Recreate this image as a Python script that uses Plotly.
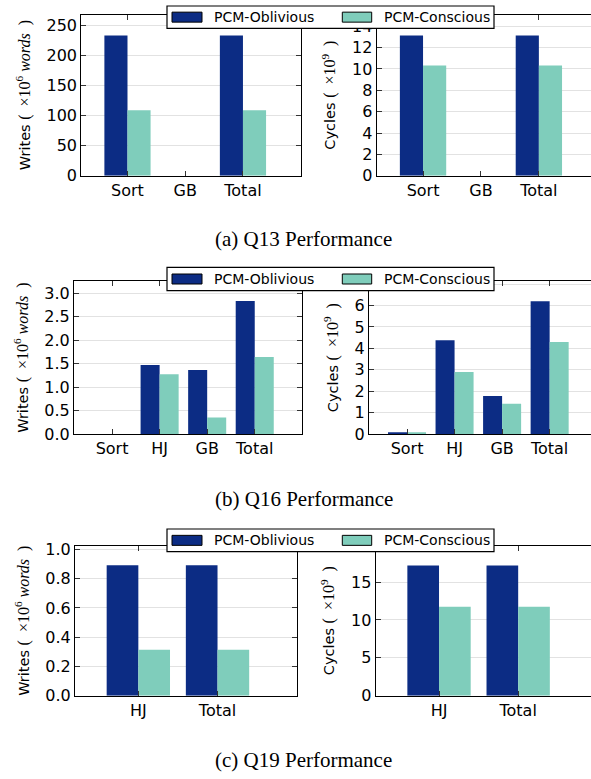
import plotly.graph_objects as go

# ---------------- data ----------------
series_names = ["PCM-Oblivious", "PCM-Conscious"]

cats_q13 = ["Sort", "GB", "Total"]
q13_writes_obl = [233, 0, 233]
q13_writes_con = [109, 0, 109]
q13_cycles_obl = [13.13, 0, 13.13]
q13_cycles_con = [10.33, 0, 10.33]

cats_q16 = ["Sort", "HJ", "GB", "Total"]
q16_writes_obl = [0, 1.47, 1.36, 2.83]
q16_writes_con = [0, 1.27, 0.35, 1.64]
q16_cycles_obl = [0.08, 4.38, 1.78, 6.2]
q16_cycles_con = [0.08, 2.9, 1.41, 4.29]

cats_q19 = ["HJ", "Total"]
q19_writes_obl = [0.892, 0.892]
q19_writes_con = [0.314, 0.314]
q19_cycles_obl = [17.2, 17.2]
q19_cycles_con = [11.73, 11.73]

captions = ["(a) Q13 Performance", "(b) Q16 Performance", "(c) Q19 Performance"]

# ---------------- style ----------------
W, H = 591, 779
C_OBL = "#0c2c84"
C_CON = "#7fcdbb"
SANS = "DejaVu Sans"
SERIF = "Liberation Serif"

def px_x(v):
    return v / W

def px_y(v):
    return 1 - v / H

def dx(a, b):
    return [px_x(a), min(px_x(b), 1.0)]

def dy(top, bottom):
    return [px_y(bottom), px_y(top)]

writes_title = ("Writes <span style=\"font-family:Liberation Serif;font-size:16px\">(  ×10<sup>6</sup> "
                "<i>words</i>  )</span>")
cycles_title = ("Cycles <span style=\"font-family:Liberation Serif;font-size:16px\">(  ×10<sup>9</sup>  )</span>")

rows = [
    dict(cats=cats_q13, w=(q13_writes_obl, q13_writes_con), c=(q13_cycles_obl, q13_cycles_con),
         top=14.5, bottom=175.7, lx=(81.3, 300.7), rx=(376.7, 591), lrange=[-0.8, 3.0], rrange=[-0.8, 2.90],
         ly=[0, 268], ry=[0, 15.1], ldt=50, rdt=2, lfmt="d", rfmt="d"),
    dict(cats=cats_q16, w=(q16_writes_obl, q16_writes_con), c=(q16_cycles_obl, q16_cycles_con),
         top=281.3, bottom=434, lx=(74, 302.3), rx=(369, 591), lrange=[-0.8, 4.0], rrange=[-0.8, 3.87],
         ly=[0, 3.25], ry=[0, 7.13], ldt=0.5, rdt=1, lfmt=".1f", rfmt="d"),
    dict(cats=cats_q19, w=(q19_writes_obl, q19_writes_con), c=(q19_cycles_obl, q19_cycles_con),
         top=545.7, bottom=695.7, lx=(75, 296.7), rx=(375.7, 591), lrange=[-0.8, 2.0], rrange=[-0.8, 1.92],
         ly=[0, 1.026], ry=[0, 19.8], ldt=0.2, rdt=5, lfmt=".1f", rfmt="d"),
]
# legend boxes (top, bottom) in pixels
legend_boxes = [(6, 28.3), (267.3, 290.7), (529, 551.7)]
legend_x = (167, 494)
swatch_x = [(172, 202), (342.3, 371.7)]
legtext_x = [211.5, 381.5]
caption_y = [239, 499, 760]

fig = go.Figure()
layout = {}

ax_i = 0
for r_i, row in enumerate(rows):
    for side in ("left", "right"):
        ax_i += 1
        sfx = "" if ax_i == 1 else str(ax_i)
        xa, ya = "x" + sfx, "y" + sfx
        vals = row["w"] if side == "left" else row["c"]
        for s_i, (name, col) in enumerate(zip(series_names, (C_OBL, C_CON))):
            fig.add_trace(go.Bar(
                x=row["cats"], y=vals[s_i], name=name, marker_color=col,
                marker_line_width=0, xaxis=xa, yaxis=ya,
                legendgroup=name, showlegend=False,
            ))
        xr = row["lx"] if side == "left" else row["rx"]
        layout["xaxis" + sfx] = dict(
            domain=dx(*xr), anchor=ya, type="category", automargin=False,
            range=row["lrange"] if side == "left" else row["rrange"],
            showline=True, linecolor="black", linewidth=1.2, mirror="ticks",
            ticks="inside", ticklen=5, tickcolor="#333", tickwidth=1,
            showgrid=False, zeroline=False,
            tickfont=dict(family=SANS, size=16, color="black"),
        )
        layout["yaxis" + sfx] = dict(
            domain=dy(row["top"], row["bottom"]), anchor=xa, automargin=False,
            range=row["ly"] if side == "left" else row["ry"],
            dtick=row["ldt"] if side == "left" else row["rdt"], tick0=0,
            tickformat=row["lfmt"] if side == "left" else row["rfmt"],
            showline=True, linecolor="black", linewidth=1.2,
            mirror="ticks" if side == "left" else False,
            ticks="inside", ticklen=5, tickcolor="#333", tickwidth=1,
            showgrid=True, gridcolor="#e2e2e2", gridwidth=1, zeroline=False,
            tickfont=dict(family=SANS, size=16, color="black"),
            title=dict(text=writes_title if side == "left" else cycles_title,
                       font=dict(family=SANS, size=14.5, color="black"), standoff=12),
        )

shapes = []
annotations = []
for i, (t, b) in enumerate(legend_boxes):
    shapes.append(dict(type="rect", xref="paper", yref="paper", layer="above",
                       x0=px_x(legend_x[0]), x1=px_x(legend_x[1]), y0=px_y(b), y1=px_y(t),
                       fillcolor="white", line=dict(color="black", width=1.2)))
    cy = (t + b) / 2
    for s_i, (name, col) in enumerate(zip(series_names, (C_OBL, C_CON))):
        shapes.append(dict(type="rect", xref="paper", yref="paper", layer="above",
                           x0=px_x(swatch_x[s_i][0]), x1=px_x(swatch_x[s_i][1]),
                           y0=px_y(cy + 5), y1=px_y(cy - 5),
                           fillcolor=col, line=dict(color="black", width=1)))
        annotations.append(dict(text=name, x=px_x(legtext_x[s_i]), y=px_y(cy), xref="paper", yref="paper",
                                xanchor="left", yanchor="middle", showarrow=False,
                                font=dict(family=SANS, size=14, color="black")))

for i, cap in enumerate(captions):
    annotations.append(dict(
        text=cap, x=px_x(304), y=px_y(caption_y[i]), xref="paper", yref="paper",
        xanchor="center", yanchor="middle", showarrow=False,
        font=dict(family=SERIF, size=21, color="black"),
    ))

fig.update_layout(
    width=W, height=H, margin=dict(l=0, r=0, t=0, b=0, autoexpand=False),
    paper_bgcolor="white", plot_bgcolor="white", showlegend=False,
    barmode="group", bargap=0.2, bargroupgap=0,
    shapes=shapes, annotations=annotations, **layout,
)

fig.write_html(
    "out.html",
    config={"displayModeBar": False},
    post_script="document.body.style.margin='0';document.body.style.padding='0';"
                "document.body.style.overflow='hidden';",
)
